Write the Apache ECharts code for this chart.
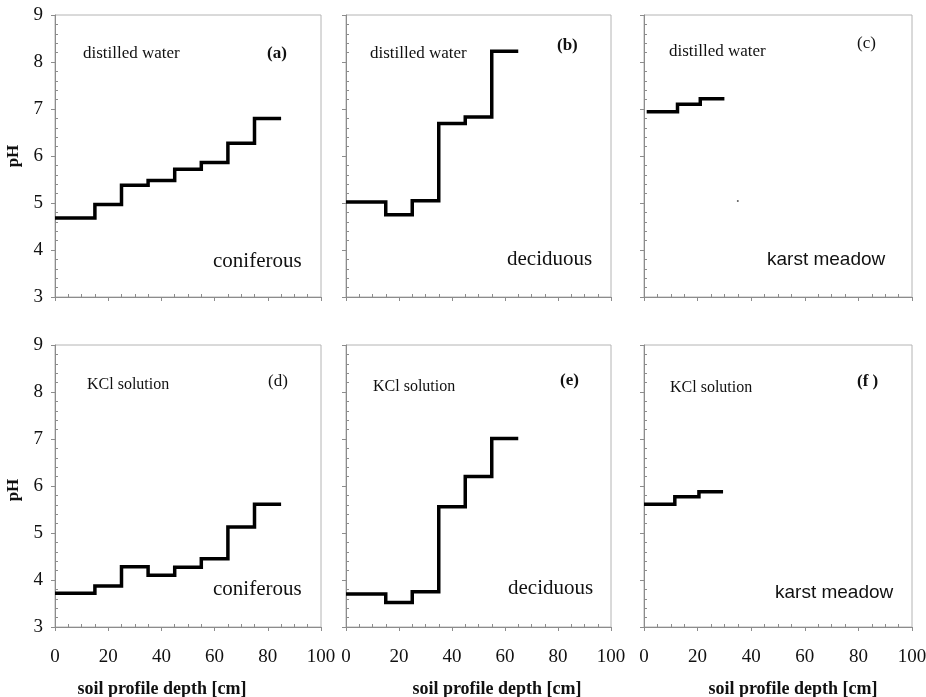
<!DOCTYPE html>
<html>
<head>
<meta charset="utf-8">
<script src="https://cdn.jsdelivr.net/npm/echarts@6/dist/echarts.min.js"></script>
<style>
  html, body { margin: 0; padding: 0; background: #fff; }
  #chart { width: 926px; height: 697px; }
</style>
</head>
<body>
<div id="chart"></div>
<script>
// depth boundaries [cm] of each soil layer, last entry = bottom of profile
const depthConif = [0, 15, 25, 35, 45, 55, 65, 75, 85];
const depthDecid = [0, 15, 25, 35, 45, 55, 65];
const depthKarstW = [1, 12.5, 21, 30];
const depthKarstK = [0, 11.5, 20.5, 29.5];

// pH in distilled water
const phConifWater = [4.68, 4.97, 5.38, 5.48, 5.72, 5.86, 6.27, 6.80];
const phDecidWater = [5.02, 4.75, 5.05, 6.69, 6.83, 8.23];
const phKarstWater = [6.94, 7.10, 7.22];
// pH in KCl solution
const phConifKCl = [3.72, 3.87, 4.28, 4.10, 4.27, 4.45, 5.13, 5.61];
const phDecidKCl = [3.70, 3.52, 3.75, 5.56, 6.20, 7.01];
const phKarstKCl = [5.61, 5.77, 5.88];

// stray dot in panel (c)
const strayDot = [[35, 5.04]];

const xTicks = [0, 20, 40, 60, 80, 100];
const yTicks = [3, 4, 5, 6, 7, 8, 9];

function steps(bounds, vals) {
  let pts = vals.map((v, i) => [bounds[i], v]);
  pts.push([bounds[bounds.length - 1], vals[vals.length - 1]]);
  return pts;
}

const serif = 'Liberation Serif';
const sans = 'Liberation Sans';

const grids = [
  { left: 55, top: 15, width: 266, height: 282 },
  { left: 346, top: 15, width: 265, height: 282 },
  { left: 644, top: 15, width: 268, height: 282 },
  { left: 55, top: 345, width: 266, height: 282 },
  { left: 346, top: 345, width: 265, height: 282 },
  { left: 644, top: 345, width: 268, height: 282 }
].map(g => Object.assign(g, {
  show: true, borderColor: '#b4b4b4', borderWidth: 1, outerBoundsMode: 'none'
}));

function xAxis(i) {
  return {
    type: 'value', gridIndex: i, min: xTicks[0], max: xTicks[xTicks.length - 1], interval: 20,
    axisLine: { lineStyle: { color: '#8c8c8c', width: 1 } },
    axisTick: { show: true, inside: false, length: 4, lineStyle: { color: '#8c8c8c' } },
    minorTick: { show: true, splitNumber: 4, length: -3, lineStyle: { color: '#8c8c8c' } },
    splitLine: { show: false },
    axisLabel: {
      show: i >= 3, margin: 21, color: '#111', fontFamily: serif, fontSize: 19
    }
  };
}

function yAxis(i) {
  return {
    type: 'value', gridIndex: i, min: yTicks[0], max: yTicks[yTicks.length - 1], interval: 1,
    axisLine: { show: true, lineStyle: { color: '#8c8c8c', width: 1 } },
    axisTick: { show: true, inside: false, length: 4, lineStyle: { color: '#8c8c8c' } },
    minorTick: { show: true, splitNumber: 5, length: -3, lineStyle: { color: '#8c8c8c' } },
    splitLine: { show: false },
    axisLabel: {
      show: i === 0 || i === 3, margin: 12, color: '#111', fontFamily: serif, fontSize: 19
    }
  };
}

const panels = [
  steps(depthConif, phConifWater),
  steps(depthDecid, phDecidWater),
  steps(depthKarstW, phKarstWater),
  steps(depthConif, phConifKCl),
  steps(depthDecid, phDecidKCl),
  steps(depthKarstK, phKarstKCl)
];

const series = panels.map((d, i) => ({
  type: 'line', xAxisIndex: i, yAxisIndex: i, data: d, step: 'end',
  showSymbol: false, animation: false,
  lineStyle: { color: '#000', width: 3.5, cap: 'butt', join: 'miter' }
}));
series.push({
  type: 'scatter', xAxisIndex: 2, yAxisIndex: 2, data: strayDot,
  symbolSize: 2, itemStyle: { color: '#333' }, animation: false
});

function txt(x, y, s, size, opts) {
  opts = opts || {};
  return {
    type: 'text', left: x, top: y - size * 0.6, silent: true,
    style: {
      text: s, fill: '#111', fontFamily: opts.font || serif, fontSize: size,
      fontWeight: opts.bold ? 'bold' : 'normal'
    }
  };
}

const labels = [
  txt(83, 55, 'distilled water', 17), txt(267, 55, '(a)', 17, { bold: true }),
  txt(213, 264, 'coniferous', 21),
  txt(370, 55, 'distilled water', 17), txt(557, 47, '(b)', 17, { bold: true }),
  txt(507, 262, 'deciduous', 21),
  txt(669, 53, 'distilled water', 17), txt(857, 45, '(c)', 17),
  txt(767, 262, 'karst meadow', 19, { font: sans }),
  txt(87, 386, 'KCl solution', 16), txt(268, 383, '(d)', 17),
  txt(213, 592, 'coniferous', 21),
  txt(373, 388, 'KCl solution', 16), txt(560, 382, '(e)', 17, { bold: true }),
  txt(508, 591, 'deciduous', 21),
  txt(670, 389, 'KCl solution', 16), txt(857, 383, '(f )', 17, { bold: true }),
  txt(775, 595, 'karst meadow', 19, { font: sans })
];

// pH titles and depth titles
[156, 490].forEach(cy => labels.push({
  type: 'text', x: 14, y: cy, rotation: Math.PI / 2, silent: true,
  style: {
    text: 'pH', fill: '#111', fontFamily: serif, fontSize: 17, fontWeight: 'bold',
    textAlign: 'center', textVerticalAlign: 'middle'
  }
}));
[162, 497, 793].forEach(cx => labels.push({
  type: 'text', x: cx, y: 689, silent: true,
  style: {
    text: 'soil profile depth [cm]', fill: '#111', fontFamily: serif, fontSize: 18,
    fontWeight: 'bold', textAlign: 'center', textVerticalAlign: 'middle'
  }
}));

const chart = echarts.init(document.getElementById('chart'));
chart.setOption({
  backgroundColor: '#fff',
  animation: false,
  grid: grids,
  xAxis: [0, 1, 2, 3, 4, 5].map(xAxis),
  yAxis: [0, 1, 2, 3, 4, 5].map(yAxis),
  series: series,
  graphic: labels
});
</script>
</body>
</html>
